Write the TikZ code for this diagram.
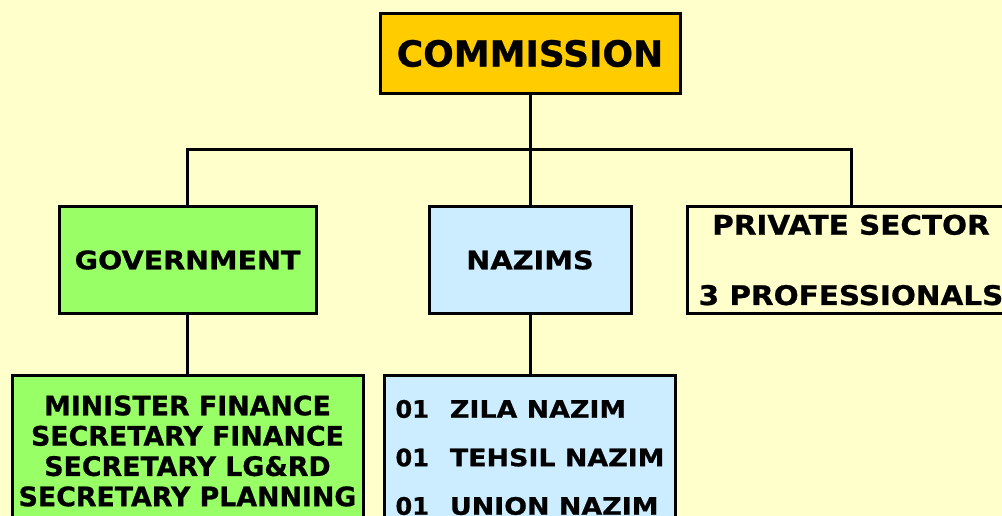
\documentclass[tikz,border=0pt]{standalone}
\usepackage{fontspec}
\usepackage{graphicx}
\setmainfont[BoldFeatures={FakeBold=0.8}]{DejaVu Sans}
\definecolor{bg}{HTML}{FFFFCC}
\definecolor{gold}{HTML}{FFCC00}
\definecolor{lgreen}{HTML}{99FF66}
\definecolor{lblue}{HTML}{CCECFF}
\newcommand{\sx}[2]{\scalebox{#1}[1]{#2}}
\newcommand{\fsz}[2]{\bfseries\fontsize{#1}{#2}\selectfont}
\tikzset{
  box/.style={draw=black, line width=3pt, rectangle, inner sep=0pt, align=center},
  link/.style={draw=black, line width=3pt}
}
\begin{document}
\begin{tikzpicture}[x=1pt,y=-1pt]
\useasboundingbox (0,0) rectangle (1002,516);
\clip (0,0) rectangle (1002,516);
\fill[bg] (0,0) rectangle (1002,516);
\coordinate (bus) at (530,150);
\node[box, fill=gold, minimum width=300pt, minimum height=80pt, font=\fsz{36}{43}] (com) at (530,53.5)
  {COMMISSION};
\node[box, fill=lgreen, minimum width=257pt, minimum height=106pt, font=\fsz{25.5}{30}] (gov) at (187.5,260)
  {\sx{1.12}{GOVERNMENT}};
\node[box, fill=lblue, minimum width=202pt, minimum height=106pt, font=\fsz{25.5}{30}] (naz) at (530,260)
  {\sx{1.13}{NAZIMS}};
\node[box, fill=bg, minimum width=328pt, minimum height=106pt, font=\fsz{27}{70.3}] (pri) at (851,260)
  {\raisebox{-2.5pt}{\sx{1.09}{PRIVATE SECTOR}}\\\raisebox{-2.5pt}{\sx{1.09}{3 PROFESSIONALS}}};
\node[box, fill=lgreen, minimum width=351pt, minimum height=151pt, anchor=north, font=\fsz{26.8}{30.3}] (gl) at (187.5,374)
  {MINISTER FINANCE\\SECRETARY FINANCE\\SECRETARY LG\&RD\\SECRETARY PLANNING};
\node[box, fill=lblue, minimum width=291pt, minimum height=164pt, anchor=north, align=left, font=\fsz{24}{48.5}] (nl) at (530,374)
  {01\hspace{21pt}\sx{1.12}{ZILA NAZIM}\\01\hspace{21pt}\sx{1.12}{TEHSIL NAZIM}\\01\hspace{21pt}\sx{1.12}{UNION NAZIM}};
\draw[link] (gov.north) |- (bus) -| (pri.north);
\draw[link] (com.south) -- (naz.north);
\draw[link] (gov.south) -- (gl.north);
\draw[link] (naz.south) -- (nl.north);
\end{tikzpicture}
\end{document}
